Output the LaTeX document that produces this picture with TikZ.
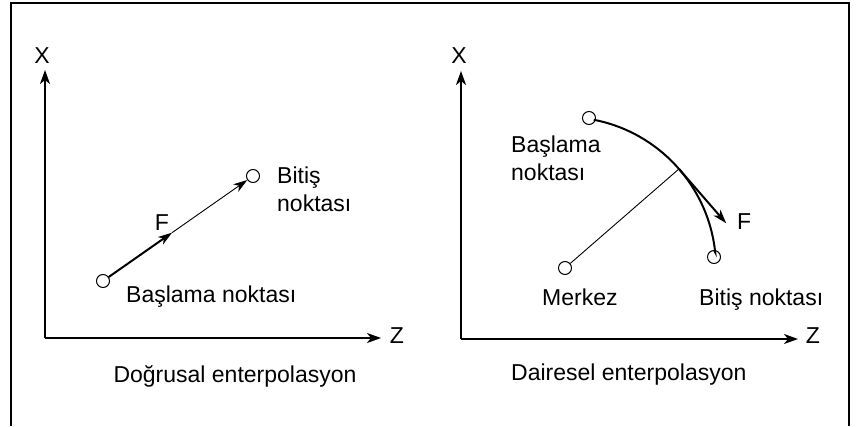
\documentclass[tikz,border=0pt]{standalone}
\usepackage{fontspec}
\setmainfont{Liberation Sans}
\usetikzlibrary{arrows.meta,calc}
\tikzset{
  frame/.style={line width=1.5bp},
  axis/.style={line width=2bp,-{Stealth[length=14bp,width=10bp,inset=4bp]}},
  pt/.style={circle,draw,fill=white,line width=1bp,minimum size=13bp,inner sep=0pt},
  lbl/.style={font=\fontsize{23bp}{27.5bp}\selectfont,inner sep=0pt},
  feed/.style={line width=2bp,-{Stealth[length=14bp,width=9bp,inset=4bp]}},
  thinarrow/.style={line width=0.9bp,-{Stealth[length=14bp,width=9bp,inset=4bp]}},
  thinline/.style={line width=0.9bp},
  arcline/.style={line width=2bp}
}
\begin{document}
\begin{tikzpicture}[x=1bp,y=1bp]
\useasboundingbox (0,0) rectangle (856,426);
% frame (open at bottom)
\draw[frame] (11,0) -- (11,423) -- (849,423) -- (849,0);

% ---------- left panel: linear interpolation ----------
\coordinate (O1) at (45,88);
\coordinate (X1) at (45,356);
\coordinate (Z1) at (381,88);
\draw[axis] (O1) -- (X1);
\draw[axis] (O1) -- (Z1);
\node[lbl,anchor=base] (x1l) at (42,363) {X};
\node[lbl,anchor=base] (z1l) at (397,83) {Z};
\node[pt] (L1) at (103,145) {};
\node[pt] (L2) at (253,250) {};
\coordinate (Lm) at ($(L1)!0.46!(L2)$);
\draw[feed] (L1) -- (Lm);
\draw[thinarrow] (Lm) -- (L2);
\node[lbl,anchor=base] (f1) at (162,196) {F};
\node[lbl,anchor=base west,align=left] (bit1) at (277,215) {Bitiş\\noktası};
\node[lbl,anchor=base west] (bas1) at (126,124) {Başlama noktası};
\node[lbl,anchor=base] (cap1) at (235,44) {Doğrusal enterpolasyon};

% ---------- right panel: circular interpolation ----------
\coordinate (O2) at (461,87);
\coordinate (X2) at (461,355);
\coordinate (Z2) at (798,87);
\draw[axis] (O2) -- (X2);
\draw[axis] (O2) -- (Z2);
\node[lbl,anchor=base] (x2l) at (459,363) {X};
\node[lbl,anchor=base] (z2l) at (813,83) {Z};
\node[pt] (C) at (565,158) {};
\node[pt] (S) at (589,308) {};
\node[pt] (E) at (714,169) {};
\coordinate (A) at ($(C)+(41:151)$);
\draw[thinline] (C) -- (A);
\draw[arcline] ($(C)+(79:151)$) arc[start angle=79,end angle=6,radius=151] -- (E.north);
\draw[feed] (A) -- ++(-49:72) coordinate (T);
\node[lbl,anchor=base west] (f2) at (737,197) {F};
\node[lbl,anchor=base west,align=left] (bas2) at (511,246) {Başlama\\noktası};
\node[lbl,anchor=base west] (mer) at (542,121) {Merkez};
\node[lbl,anchor=base west] (bit2) at (699,121) {Bitiş noktası};
\node[lbl,anchor=base west] (cap2) at (511,46) {Dairesel enterpolasyon};
\end{tikzpicture}
\end{document}
